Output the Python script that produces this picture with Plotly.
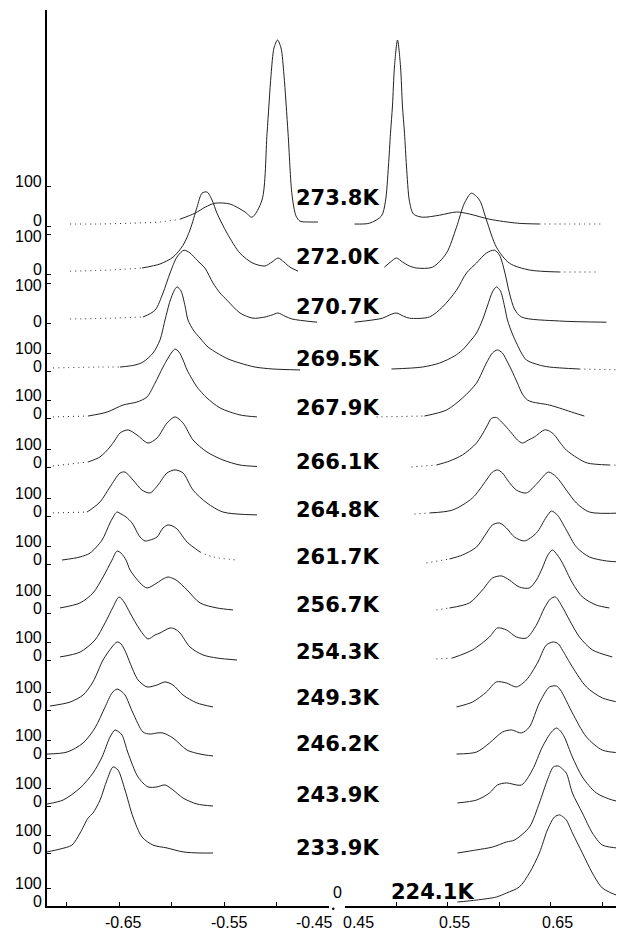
import plotly.graph_objects as go

# ---------------- data (velocity in mm/s, intensity in tick units: 100 = tick "100") -------------
TEMPS = ["273.8K", "272.0K", "270.7K", "269.5K", "267.9K", "266.1K", "264.8K",
         "261.7K", "256.7K", "254.3K", "249.3K", "246.2K", "243.9K", "233.9K", "224.1K"]

V2738L = [-0.6967, -0.668, -0.6395, -0.611, -0.592, -0.5776, -0.568, -0.5586, -0.5443, -0.530, -0.5233, -0.5138,
          -0.509, -0.5052, -0.5024, -0.499, -0.4957, -0.4929, -0.489, -0.4852, -0.4814, -0.4776, -0.468, -0.4605]
I2738L = [5, 5, 7, 10, 17, 32, 47, 57, 55, 35, 22, 65, 232, 377, 445, 465, 445, 377, 232, 77, 25, 12, 10, 10]
V2738R = [0.4592, 0.4738, 0.4854, 0.4893, 0.4922, 0.4942, 0.4961, 0.4981, 0.501, 0.5039, 0.5058, 0.5078, 0.5097,
          0.5126, 0.5165, 0.5252, 0.5417, 0.5583, 0.5709, 0.5903, 0.6175, 0.6388, 0.668, 0.70]
I2738R = [5, 7, 25, 62, 150, 232, 300, 400, 465, 400, 300, 232, 150, 62, 30, 22, 27, 35, 30, 17, 7, 5, 5, 5]

V2720L = [-0.6967, -0.6586, -0.6281, -0.611, -0.5986, -0.589, -0.5824, -0.5757, -0.571, -0.5662, -0.5614, -0.5567,
          -0.5471, -0.5348, -0.5224, -0.511, -0.5043, -0.4986, -0.4929, -0.4871, -0.4795]
I2720L = [7, 10, 15, 25, 42, 72, 110, 167, 202, 205, 185, 152, 102, 52, 27, 20, 30, 40, 30, 17, 7]
V2720R = [0.4883, 0.4942, 0.5, 0.5058, 0.5126, 0.5194, 0.535, 0.5485, 0.5583, 0.566, 0.5728, 0.5806, 0.5874,
          0.5971, 0.6097, 0.6291, 0.6583, 0.6971]
I2720R = [17, 30, 40, 30, 20, 15, 17, 52, 117, 177, 202, 185, 135, 67, 27, 10, 5, 5]

V2707L = [-0.6967, -0.6586, -0.6271, -0.6157, -0.6081, -0.6014, -0.5948, -0.5881, -0.5824, -0.5757, -0.5681,
          -0.5605, -0.5538, -0.5471, -0.5348, -0.5224, -0.511, -0.5043, -0.4986, -0.4919, -0.4852, -0.4614]
I2707L = [10, 12, 15, 32, 75, 125, 165, 182, 175, 157, 137, 100, 75, 57, 25, 12, 15, 20, 25, 17, 10, 2]
V2707R = [0.4592, 0.4864, 0.4932, 0.5, 0.5068, 0.5126, 0.532, 0.5447, 0.5583, 0.568, 0.5777, 0.5874, 0.5951,
          0.6, 0.6049, 0.6097, 0.6146, 0.6214, 0.6583, 0.7039]
I2707R = [2, 12, 20, 25, 17, 12, 15, 40, 82, 125, 150, 175, 182, 170, 130, 75, 35, 15, 5, 2]

V2695L = [-0.7129, -0.6681, -0.649, -0.6348, -0.6271, -0.6176, -0.611, -0.6062, -0.6014, -0.5976, -0.5948, -0.591,
          -0.5871, -0.5843, -0.5786, -0.5729, -0.5652, -0.5567, -0.5462, -0.5348, -0.5205, -0.5033, -0.4776]
I2695L = [17, 22, 22, 33, 50, 100, 172, 283, 389, 445, 467, 445, 361, 283, 222, 183, 133, 100, 67, 44, 22, 11, 6]
V2695R = [0.4951, 0.5252, 0.5417, 0.5563, 0.5641, 0.5709, 0.5777, 0.5835, 0.5883, 0.5932, 0.5971, 0.601, 0.6049,
          0.6078, 0.6126, 0.6165, 0.6214, 0.6262, 0.6388, 0.6485, 0.6777, 0.7184]
I2695R = [11, 22, 44, 83, 117, 161, 211, 283, 361, 439, 467, 445, 361, 283, 206, 156, 100, 61, 33, 22, 11, 6]

V2679L = [-0.7129, -0.6795, -0.6614, -0.6462, -0.6329, -0.6233, -0.6157, -0.6081, -0.6033, -0.5995, -0.5967,
          -0.5929, -0.589, -0.5852, -0.5805, -0.5757, -0.5662, -0.5538, -0.5348, -0.5186]
I2679L = [6, 11, 33, 72, 89, 117, 194, 283, 333, 367, 383, 367, 322, 267, 217, 172, 111, 56, 17, 6]
V2679R = [0.4806, 0.5272, 0.5485, 0.5641, 0.5777, 0.5874, 0.5932, 0.5981, 0.6029, 0.6078, 0.6117, 0.6175, 0.6223,
          0.6272, 0.632, 0.6485, 0.6612, 0.6728, 0.6825]
I2679R = [6, 11, 44, 111, 194, 306, 361, 378, 361, 311, 267, 194, 133, 100, 89, 72, 50, 28, 11]

V2661L = [-0.7129, -0.6795, -0.6681, -0.6586, -0.6538, -0.649, -0.6414, -0.6329, -0.6224, -0.6138, -0.6043,
          -0.5967, -0.589, -0.5795, -0.5662, -0.551, -0.5348, -0.5186]
I2661L = [6, 28, 56, 111, 150, 189, 206, 178, 133, 161, 244, 278, 244, 150, 83, 39, 11, 3]
V2661R = [0.5146, 0.5388, 0.5515, 0.5641, 0.5777, 0.5874, 0.5922, 0.5971, 0.6, 0.6058, 0.6117, 0.6175, 0.6223,
          0.6282, 0.634, 0.6437, 0.6485, 0.6534, 0.6592, 0.665, 0.6757, 0.6854, 0.7068, 0.72]
I2661R = [0, 11, 33, 67, 133, 222, 270, 275, 262, 228, 189, 150, 133, 150, 167, 206, 200, 178, 133, 94, 50, 22, 11, 10]

V2648L = [-0.7129, -0.6805, -0.6776, -0.6681, -0.6586, -0.649, -0.6443, -0.6367, -0.6281, -0.6205, -0.6129,
          -0.6043, -0.5967, -0.589, -0.5795, -0.5662, -0.551, -0.5186]
I2648L = [17, 22, 33, 78, 161, 239, 244, 200, 144, 128, 172, 239, 256, 239, 144, 72, 22, 6]
V2648R = [0.5175, 0.532, 0.5544, 0.5738, 0.5874, 0.5932, 0.5981, 0.6029, 0.6078, 0.6165, 0.6262, 0.6369, 0.6476,
          0.6553, 0.665, 0.6748, 0.6874, 0.7194]
I2648R = [11, 17, 33, 100, 200, 244, 256, 239, 200, 144, 128, 183, 244, 217, 144, 72, 22, 17]

V2617L = [-0.7043, -0.6871, -0.6776, -0.6662, -0.6586, -0.6538, -0.6519, -0.6481, -0.6433, -0.6376, -0.63,
          -0.6252, -0.6205, -0.6138, -0.6081, -0.6033, -0.5995, -0.5948, -0.5852, -0.5729, -0.5605, -0.5376]
I2617L = [22, 39, 61, 133, 228, 278, 289, 278, 261, 228, 150, 128, 133, 150, 200, 217, 212, 195, 122, 67, 39, 22]
V2617R = [0.5291, 0.5515, 0.5641, 0.5777, 0.5874, 0.5932, 0.6, 0.6068, 0.6146, 0.6243, 0.6359, 0.6456, 0.6505,
          0.6563, 0.665, 0.6748, 0.6874, 0.7039, 0.7194]
I2617R = [6, 28, 50, 94, 172, 217, 228, 200, 150, 128, 172, 261, 294, 272, 189, 94, 39, 17, 11]

V2567L = [-0.7062, -0.6871, -0.6748, -0.6652, -0.6567, -0.6519, -0.6481, -0.6433, -0.6395, -0.63, -0.6233,
          -0.6138, -0.6081, -0.6033, -0.5986, -0.5948, -0.5852, -0.5729, -0.5567, -0.5414]
I2567L = [28, 56, 111, 200, 294, 344, 333, 294, 239, 167, 139, 167, 189, 200, 192, 180, 128, 56, 28, 17]
V2567R = [0.5388, 0.5515, 0.5709, 0.5835, 0.5932, 0.6019, 0.6097, 0.6194, 0.6291, 0.6359, 0.6417, 0.6466, 0.6514,
          0.6563, 0.6612, 0.6709, 0.6806, 0.6942, 0.7068]
I2567R = [17, 28, 56, 128, 194, 206, 183, 144, 139, 183, 250, 317, 350, 322, 278, 167, 89, 44, 28]

V2543L = [-0.7062, -0.6871, -0.6729, -0.6633, -0.6557, -0.65, -0.6452, -0.6395, -0.63, -0.6224, -0.6157, -0.611,
          -0.6014, -0.5967, -0.5919, -0.5824, -0.57, -0.5567, -0.5376]
I2543L = [17, 44, 111, 206, 294, 350, 322, 261, 167, 117, 139, 150, 178, 172, 150, 72, 28, 11, 0]
V2543R = [0.5388, 0.5544, 0.5738, 0.5903, 0.5981, 0.6068, 0.6165, 0.6262, 0.6359, 0.6437, 0.6495, 0.6544, 0.6612,
          0.668, 0.6777, 0.6903, 0.7097]
I2543R = [6, 11, 56, 128, 178, 167, 128, 122, 194, 289, 339, 350, 294, 222, 128, 56, 17]

V2493L = [-0.7157, -0.6967, -0.6843, -0.6748, -0.6652, -0.6567, -0.6519, -0.6481, -0.6433, -0.6395, -0.6319,
          -0.6233, -0.6138, -0.6062, -0.5986, -0.589, -0.5757, -0.5605]
I2493L = [22, 44, 83, 156, 278, 350, 378, 367, 317, 261, 167, 128, 139, 156, 139, 83, 39, 17]
V2493R = [0.5583, 0.5738, 0.5874, 0.5971, 0.6068, 0.6165, 0.6262, 0.6369, 0.6456, 0.6524, 0.6573, 0.6612, 0.6709,
          0.6845, 0.70, 0.7194]
I2493R = [17, 44, 100, 156, 150, 128, 167, 261, 361, 378, 367, 333, 239, 128, 67, 39]

V2462L = [-0.7186, -0.6995, -0.6843, -0.6729, -0.6633, -0.6567, -0.6519, -0.6481, -0.6443, -0.6367, -0.6271,
          -0.6205, -0.6138, -0.6081, -0.5986, -0.5852, -0.5729, -0.5605]
I2462L = [22, 33, 83, 167, 283, 361, 383, 372, 350, 250, 144, 133, 139, 139, 111, 44, 22, 11]
V2462R = [0.5583, 0.5777, 0.5903, 0.6029, 0.6117, 0.6214, 0.6291, 0.6388, 0.6485, 0.6553, 0.6592, 0.6631, 0.6709,
          0.6845, 0.70, 0.7194]
I2462R = [22, 33, 83, 144, 156, 139, 172, 306, 394, 400, 378, 339, 250, 117, 44, 28]

V2439L = [-0.7186, -0.7033, -0.6871, -0.6748, -0.6662, -0.6586, -0.6538, -0.65, -0.6471, -0.6414, -0.6319,
          -0.6224, -0.6138, -0.6062, -0.5986, -0.589, -0.5757, -0.5605]
I2439L = [11, 33, 100, 183, 272, 383, 422, 411, 394, 294, 161, 106, 106, 117, 89, 44, 11, 0]
V2439R = [0.5592, 0.5777, 0.5903, 0.5981, 0.6068, 0.6214, 0.632, 0.6417, 0.6505, 0.6553, 0.6592, 0.6631, 0.6709,
          0.6806, 0.6942, 0.7097, 0.7194]
I2439R = [17, 33, 72, 117, 128, 117, 200, 328, 411, 433, 417, 383, 272, 161, 72, 33, 22]

V2339L = [-0.7186, -0.7062, -0.6948, -0.6871, -0.6795, -0.6748, -0.6681, -0.6614, -0.6557, -0.651, -0.6443,
          -0.6367, -0.6281, -0.6176, -0.6043, -0.589, -0.5729, -0.5605]
I2339L = [6, 22, 44, 111, 194, 222, 294, 406, 478, 461, 350, 200, 89, 44, 28, 6, 0, 0]
V2339R = [0.5592, 0.5777, 0.5932, 0.6068, 0.6146, 0.6291, 0.6388, 0.6466, 0.6524, 0.6573, 0.6612, 0.665, 0.6709,
          0.6806, 0.6903, 0.70, 0.7136, 0.7194]
I2339R = [0, 17, 33, 61, 72, 144, 278, 406, 478, 483, 467, 444, 333, 222, 111, 44, 28, 22]

V2241L = []
I2241L = []
V2241R = [0.5592, 0.5777, 0.5971, 0.6068, 0.6194, 0.6291, 0.6388, 0.6466, 0.6534, 0.6583, 0.6621, 0.665, 0.6709,
          0.6806, 0.6903, 0.70, 0.7136, 0.7194]
I2241R = [22, 33, 50, 72, 106, 183, 294, 422, 494, 506, 494, 478, 406, 294, 183, 100, 61, 56]

LEFT_TICKS = [-0.70, -0.65, -0.60, -0.55, -0.50, -0.45]
RIGHT_TICKS = [0.50, 0.55, 0.60, 0.65, 0.70]
LEFT_LABELS = ["-0.65", "-0.55", "-0.45"]
LEFT_LABEL_AT = [-0.65, -0.55, -0.45]
RIGHT_LABELS = ["0.45", "0.55", "0.65"]
RIGHT_LABEL_AT = [0.45, 0.55, 0.65]

# ---------------- layout constants (stack offsets / scales / label placement) ----------------
OFFSET = [680, 632, 583, 535, 488, 439, 390, 342, 293, 246, 196, 148, 100, 53, 0]
SCALE = [0.40, 0.40, 0.40] + [0.18] * 12
LABEL_PY = [198, 257, 307, 359, 408, 462, 510, 557, 605, 652, 698, 744, 795, 848, 892]
LABEL_PX = [337] * 14 + [432]
ZERO_SHIFT = [6, 5, 2] + [5] * 12
HUND_SHIFT = [5, -2, -2] + [5] * 12

# solid (fitted line) span for each side; outside of it the points are drawn dotted
SOLID_L = [(-0.592, 0), (-0.6281, 0), (-0.6271, 0), (-0.649, -0.5033), (-0.6795, -0.5348), (-0.6795, -0.5348),
           (-0.6805, -0.551), (-1, -0.5852), (-1, -0.5567), (-1, -0.5567)] + [(-1, 0)] * 5
SOLID_R = [(0, 0.6175), (0, 0.6291), (0, 1), (0, 0.6485), (0.5272, 1), (0.5388, 0.6854), (0.532, 0.6874),
           (0.5515, 0.7039), (0.5515, 1), (0.5544, 1)] + [(0, 1)] * 5

SERIES = [
    (V2738L, I2738L, V2738R, I2738R), (V2720L, I2720L, V2720R, I2720R), (V2707L, I2707L, V2707R, I2707R),
    (V2695L, I2695L, V2695R, I2695R), (V2679L, I2679L, V2679R, I2679R), (V2661L, I2661L, V2661R, I2661R),
    (V2648L, I2648L, V2648R, I2648R), (V2617L, I2617L, V2617R, I2617R), (V2567L, I2567L, V2567R, I2567R),
    (V2543L, I2543L, V2543R, I2543R), (V2493L, I2493L, V2493R, I2493R), (V2462L, I2462L, V2462R, I2462R),
    (V2439L, I2439L, V2439R, I2439R), (V2339L, I2339L, V2339R, I2339R), (V2241L, I2241L, V2241R, I2241R),
]

# page body has an 8px margin: figure is placed at (8, 8) in the window
PAGE = 8
W, H = 624 - PAGE, 933 - PAGE
AX_X, AX_TOP, AX_BOTTOM = 47, 10, 906          # window pixels of the plot frame
ML, MR, MT = AX_X - PAGE, 0, AX_TOP - PAGE
MB = H + PAGE - AX_BOTTOM
PW = W - ML - MR
PH = AX_BOTTOM - AX_TOP
Y_TOP = PH  # y axis range in stack units (1 unit = 1 px)


def px_to_paper_x(px):
    return (px - AX_X) / PW


def py_to_paper_y(py):
    return (AX_BOTTOM - py) / PH


fig = go.Figure()


def runs(v, y, lo, hi):
    out = []
    cur = None
    for vv, yy in zip(v, y):
        st = "solid" if lo <= vv <= hi else "dot"
        if cur is None or cur[0] != st:
            if cur is not None:
                cur[1].append(vv)
                cur[2].append(yy)
                out.append(cur)
            cur = [st, [vv], [yy]]
        else:
            cur[1].append(vv)
            cur[2].append(yy)
    if cur is not None:
        out.append(cur)
    return out


for k, (vl, il, vr, ir) in enumerate(SERIES):
    for v, inten, xa, span in ((vl, il, "x", SOLID_L[k]), (vr, ir, "x2", SOLID_R[k])):
        if not v:
            continue
        yv = [OFFSET[k] + SCALE[k] * a for a in inten]
        for st, xs, ys in runs(v, yv, span[0], span[1]):
            if len(xs) < 2:
                continue
            fig.add_trace(go.Scatter(
                x=xs, y=ys, xaxis=xa, yaxis="y", mode="lines",
                line=dict(color="#222222", width=1.0, shape="spline", smoothing=0.8,
                          dash="solid" if st == "solid" else "1px,4px"),
                hoverinfo="skip", showlegend=False))

ann = []
tick_font = dict(family="Liberation Sans, Arial, sans-serif", size=16, color="black")
for k, t in enumerate(TEMPS):
    ann.append(dict(text="<b>%s</b>" % t, xref="paper", yref="paper",
                    x=px_to_paper_x(LABEL_PX[k]), y=py_to_paper_y(LABEL_PY[k]),
                    xanchor="center", yanchor="middle", showarrow=False,
                    font=dict(family="DejaVu Sans, sans-serif", size=21, color="black")))
    ann.append(dict(text="0", xref="paper", yref="y", x=0, y=OFFSET[k], xanchor="right", yanchor="middle",
                    xshift=-3, yshift=ZERO_SHIFT[k], showarrow=False, font=tick_font))
    ann.append(dict(text="100", xref="paper", yref="y", x=0, y=OFFSET[k] + 100 * SCALE[k], xanchor="right",
                    yanchor="middle", xshift=-3, yshift=HUND_SHIFT[k], showarrow=False, font=tick_font))

left_shift = [4, 5, -15]
right_shift = [13, 7, 7]
lab_y = py_to_paper_y(923)
for lab, at, s in zip(LEFT_LABELS, LEFT_LABEL_AT, left_shift):
    ann.append(dict(text=lab, xref="x", yref="paper", x=at, y=lab_y, xanchor="center", yanchor="middle",
                    xshift=s, showarrow=False, font=tick_font))
for lab, at, s in zip(RIGHT_LABELS, RIGHT_LABEL_AT, right_shift):
    ann.append(dict(text=lab, xref="x2", yref="paper", x=at, y=lab_y, xanchor="center", yanchor="middle",
                    xshift=s, showarrow=False, font=tick_font))
# zero-velocity mark at the axis break
ann.append(dict(text="0", xref="paper", yref="paper", x=px_to_paper_x(337), y=py_to_paper_y(892),
                xanchor="center", yanchor="middle", showarrow=False, font=tick_font))

ytv = OFFSET + [o + 100 * s for o, s in zip(OFFSET, SCALE)]

axis_common = dict(showline=True, linecolor="black", linewidth=2, ticks="inside", ticklen=4, tickwidth=1,
                   tickcolor="black", showticklabels=False, showgrid=False, zeroline=False, anchor="y",
                   fixedrange=True)
fig.update_layout(
    width=W, height=H, margin=dict(l=ML, r=MR, t=MT, b=MB, pad=0),
    paper_bgcolor="white", plot_bgcolor="white", showlegend=False,
    xaxis=dict(domain=[0, px_to_paper_x(329)], range=[-0.7186, -0.45], tickvals=LEFT_TICKS, **axis_common),
    xaxis2=dict(domain=[px_to_paper_x(345), 1], range=[0.45, 0.721], tickvals=RIGHT_TICKS, **axis_common),
    yaxis=dict(range=[0, Y_TOP], showline=True, linecolor="black", linewidth=1.5, ticks="inside", ticklen=4,
               tickwidth=1, tickcolor="black", tickvals=ytv, showticklabels=False, showgrid=False,
               zeroline=False, anchor="x", fixedrange=True),
    annotations=ann,
    shapes=[dict(type="circle", xref="paper", yref="paper",
                 x0=px_to_paper_x(332), x1=px_to_paper_x(334.5),
                 y0=py_to_paper_y(910), y1=py_to_paper_y(907.5),
                 fillcolor="black", line=dict(width=0))],
)

fig.write_html("out.html")
